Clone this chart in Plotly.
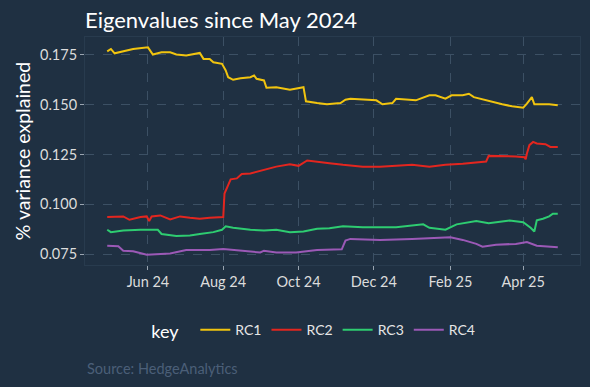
import plotly.graph_objects as go

rc1_dates = ["2024-04-29","2024-05-02","2024-05-05","2024-05-12","2024-05-20","2024-06-01","2024-06-03","2024-06-05",
             "2024-06-12","2024-06-19","2024-06-24","2024-07-02","2024-07-13","2024-07-16","2024-07-21","2024-07-24",
             "2024-07-31","2024-08-03","2024-08-05","2024-08-09","2024-08-15","2024-08-23","2024-08-26","2024-08-28",
             "2024-09-03","2024-09-05","2024-09-13","2024-09-24","2024-10-05","2024-10-07","2024-10-16","2024-10-24",
             "2024-11-04","2024-11-08","2024-11-12","2024-11-22","2024-12-03","2024-12-08","2024-12-16","2024-12-19",
             "2024-12-27","2025-01-04","2025-01-15","2025-01-20","2025-01-28","2025-02-02","2025-02-11","2025-02-16",
             "2025-02-20","2025-03-04","2025-03-15","2025-03-23","2025-04-01","2025-04-04","2025-04-08","2025-04-10",
             "2025-04-17","2025-04-22","2025-04-29"]
rc1_values = [0.1768,0.1780,0.1758,0.1768,0.1780,0.1788,0.1768,0.1752,
              0.1763,0.1763,0.1752,0.1747,0.1760,0.1730,0.1730,0.1713,
              0.1705,0.1672,0.1638,0.1625,0.1633,0.1638,0.1647,0.1630,
              0.1622,0.1585,0.1588,0.1575,0.1588,0.1517,0.1508,0.1502,
              0.1508,0.1525,0.1530,0.1527,0.1522,0.1502,0.1508,0.1530,
              0.1527,0.1522,0.1547,0.1547,0.1530,0.1547,0.1547,0.1555,
              0.1538,0.1518,0.1502,0.1492,0.1485,0.1505,0.1538,0.1502,
              0.1502,0.1502,0.1497]

rc2_dates = ["2024-04-29","2024-05-07","2024-05-12","2024-05-17","2024-05-26","2024-05-31","2024-06-02","2024-06-04",
             "2024-06-11","2024-06-19","2024-06-27","2024-07-05","2024-07-13","2024-07-21","2024-08-01","2024-08-02",
             "2024-08-07","2024-08-12","2024-08-16","2024-08-23","2024-08-28","2024-09-03","2024-09-08","2024-09-13",
             "2024-09-24","2024-10-01","2024-10-08","2024-10-16","2024-10-26","2024-11-06","2024-11-22","2024-12-06",
             "2024-12-19","2025-01-01","2025-01-15","2025-01-28","2025-02-11","2025-02-22","2025-03-02","2025-03-04",
             "2025-03-15","2025-03-26","2025-04-02","2025-04-03","2025-04-04","2025-04-06","2025-04-09","2025-04-12",
             "2025-04-19","2025-04-23","2025-04-29"]
rc2_values = [0.0936,0.0936,0.0939,0.0922,0.0936,0.0939,0.0916,0.0939,
              0.0944,0.0924,0.0939,0.0932,0.0927,0.0932,0.0936,0.1054,
              0.1125,0.1130,0.1152,0.1155,0.1164,0.1172,0.1181,0.1189,
              0.1201,0.1193,0.1220,0.1215,0.1206,0.1198,0.1189,0.1189,
              0.1194,0.1198,0.1189,0.1198,0.1203,0.1211,0.1215,0.1243,
              0.1243,0.1240,0.1236,0.1226,0.1255,0.1297,0.1313,0.1305,
              0.1302,0.1288,0.1288]

rc3_dates = ["2024-04-29","2024-05-02","2024-05-12","2024-05-26","2024-06-09","2024-06-12","2024-06-24","2024-07-05",
             "2024-07-13","2024-07-24","2024-07-31","2024-08-03","2024-08-09","2024-08-23","2024-09-03","2024-09-13",
             "2024-09-24","2024-10-05","2024-10-16","2024-10-26","2024-11-06","2024-11-22","2024-12-19","2025-01-10",
             "2025-01-15","2025-01-28","2025-02-06","2025-02-22","2025-03-04","2025-03-21","2025-04-01","2025-04-07",
             "2025-04-10","2025-04-12","2025-04-17","2025-04-22","2025-04-25","2025-04-29"]
rc3_values = [0.0872,0.0860,0.0868,0.0872,0.0872,0.0851,0.0841,0.0843,
              0.0851,0.0860,0.0872,0.0889,0.0882,0.0872,0.0868,0.0872,
              0.0860,0.0863,0.0877,0.0880,0.0890,0.0885,0.0885,0.0899,
              0.0882,0.0872,0.0899,0.0916,0.0905,0.0919,0.0910,0.0882,
              0.0863,0.0919,0.0927,0.0939,0.0953,0.0953]

rc4_dates = ["2024-04-29","2024-05-08","2024-05-12","2024-05-20","2024-05-31","2024-06-08","2024-06-19","2024-07-02",
             "2024-07-13","2024-07-21","2024-08-01","2024-08-15","2024-08-31","2024-09-03","2024-09-13","2024-09-29",
             "2024-10-16","2024-11-05","2024-11-08","2024-11-12","2024-12-06","2025-01-01","2025-01-15","2025-02-01",
             "2025-02-11","2025-02-22","2025-02-27","2025-03-10","2025-03-26","2025-04-04","2025-04-12","2025-04-22",
             "2025-04-29"]
rc4_values = [0.0792,0.0789,0.0767,0.0764,0.0747,0.0750,0.0753,0.0770,
              0.0770,0.0770,0.0775,0.0767,0.0758,0.0767,0.0758,0.0758,
              0.0770,0.0774,0.0818,0.0826,0.0821,0.0826,0.0831,0.0834,
              0.0821,0.0801,0.0787,0.0797,0.0801,0.0810,0.0792,0.0787,
              0.0784]

series_names = ["RC1", "RC2", "RC3", "RC4"]
series_colors = ["#f1c40f", "#e3261f", "#2ecc71", "#9b59b6"]

y_ticks = [0.075, 0.100, 0.125, 0.150, 0.175]
y_tick_labels = ["0.075", "0.100", "0.125", "0.150", "0.175"]
x_ticks = ["2024-06-01", "2024-08-01", "2024-10-01", "2024-12-01", "2025-02-01", "2025-04-01"]
x_tick_labels = ["Jun 24", "Aug 24", "Oct 24", "Dec 24", "Feb 25", "Apr 25"]

BG = "#1f3042"
GRID = "#3c5064"
FONT = "Lato"

fig = go.Figure()
for name, color, xs, ys in zip(series_names, series_colors,
                               [rc1_dates, rc2_dates, rc3_dates, rc4_dates],
                               [rc1_values, rc2_values, rc3_values, rc4_values]):
    fig.add_trace(go.Scatter(x=xs, y=ys, mode="lines", name=name,
                             line=dict(color=color, width=2)))

fig.update_layout(
    width=590, height=387,
    paper_bgcolor=BG, plot_bgcolor=BG,
    margin=dict(l=85, r=10, t=37, b=122),
    font=dict(family=FONT, color="#e6e6e6"),
    title=dict(text="Eigenvalues since May 2024", xref="paper", x=0, xanchor="left",
               y=1-20/387, yanchor="middle", font=dict(size=22, color="white", family=FONT)),
    showlegend=True,
    legend=dict(orientation="h", x=0.13, xanchor="left", y=-0.29, yanchor="middle",
                title=dict(text="key  ", side="left", font=dict(size=18, color="white")),
                font=dict(size=14, color="#e6e6e6"), bgcolor="rgba(0,0,0,0)"),
    annotations=[dict(text="Source: HedgeAnalytics", xref="paper", yref="paper",
                      x=0, y=-0.453, xanchor="left", yanchor="middle", showarrow=False,
                      font=dict(size=14.5, color="#4b5f78", family=FONT))],
)
fig.update_xaxes(range=["2024-04-11", "2025-05-17"], tickvals=x_ticks, ticktext=x_tick_labels,
                 showgrid=True, gridcolor=GRID, griddash="dash", gridwidth=1,
                 ticks="outside", ticklen=4, tickcolor="#9aa5b1", tickfont=dict(size=14.5, color="#dcdcdc"),
                 zeroline=False, showline=True, linecolor="#283b4e", linewidth=1, mirror=True)
fig.update_yaxes(range=[0.0695, 0.184], tickvals=y_ticks, ticktext=y_tick_labels,
                 showgrid=True, gridcolor=GRID, griddash="dash", gridwidth=1,
                 ticks="outside", ticklen=4, tickcolor="#9aa5b1", tickfont=dict(size=14.5, color="#dcdcdc"),
                 zeroline=False, showline=True, linecolor="#283b4e", linewidth=1, mirror=True,
                 title=dict(text="% variance explained", font=dict(size=19.5, color="white"), standoff=4))

fig.write_html("out.html", config={"displayModeBar": False},
               post_script="document.body.style.margin='0px';document.body.style.background='" + BG + "';")
